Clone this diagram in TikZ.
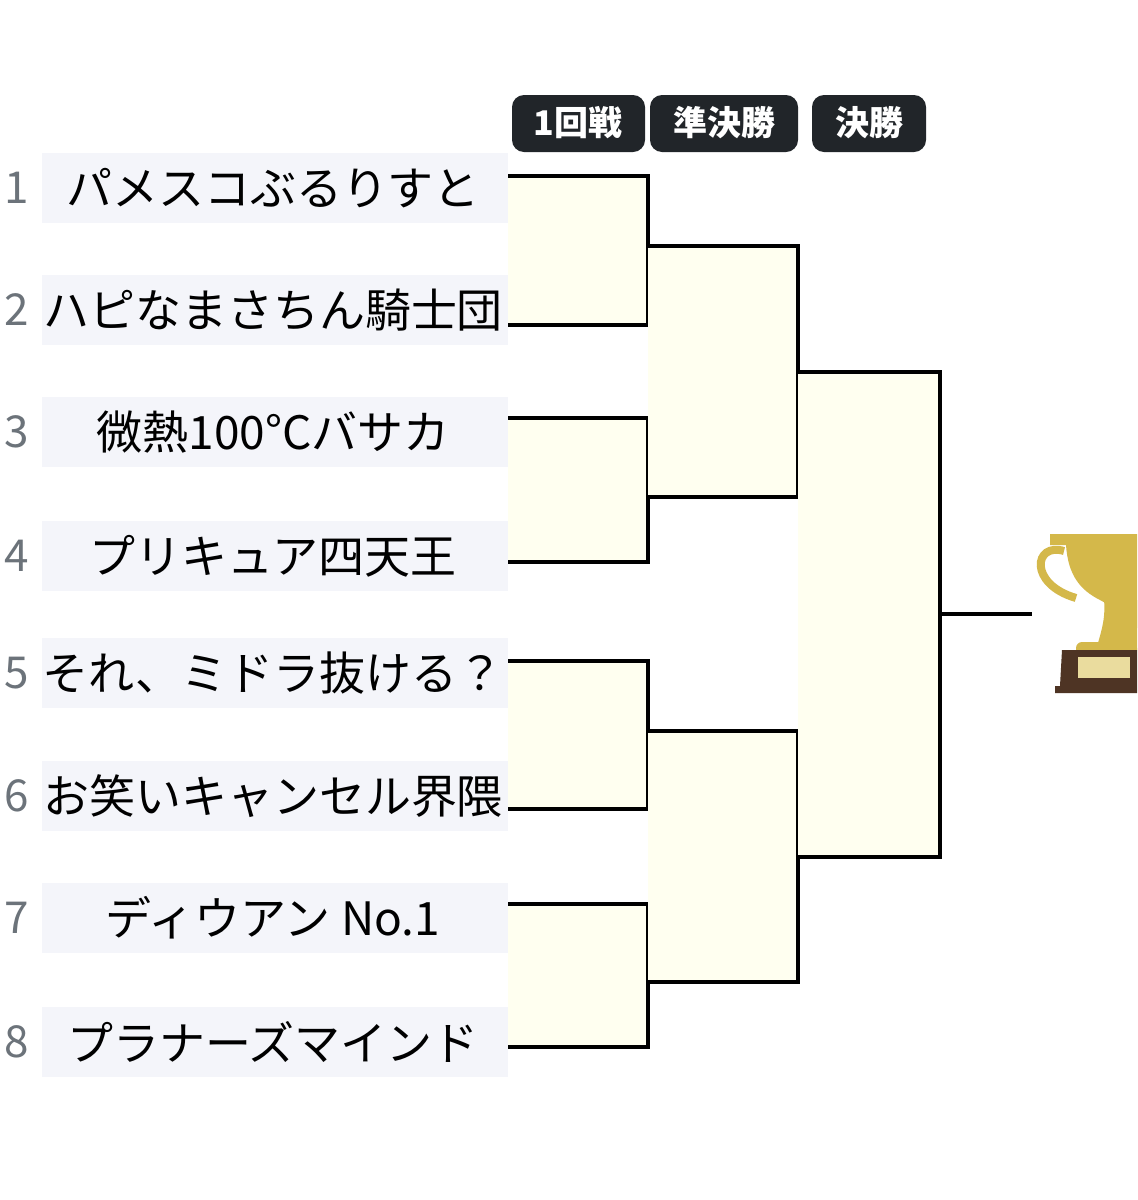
\documentclass[tikz,border=0pt]{standalone}
\usepackage{fontspec}
\setmainfont{Noto Sans CJK JP}
\definecolor{band}{HTML}{F4F5FA}
\definecolor{fillc}{HTML}{FFFFF0}
\definecolor{pill}{HTML}{212529}
\definecolor{gold}{HTML}{D4B84A}
\definecolor{brownb}{HTML}{4E3424}
\definecolor{plaq}{HTML}{EADC9E}
\definecolor{numc}{HTML}{6C737A}
\tikzset{
 entry/.style={font=\fontsize{23}{26}\selectfont,anchor=center},
 num/.style={font=\fontsize{22}{24}\selectfont,text=numc},
 brk/.style={draw=black,line width=2pt,fill=fillc},
 pilltext/.style={text=white,font=\bfseries\fontsize{17}{20}\selectfont}
}
\begin{document}
\begin{tikzpicture}[x=0.5pt,y=-0.5pt]
\useasboundingbox (0,0) rectangle (1137,1200);
\fill[white] (0,0) rectangle (1137,1200);
% header
\fill[pill,rounded corners=6pt] (512,95) rectangle (645,152);
\fill[pill,rounded corners=6pt] (650,95) rectangle (798,152);
\fill[pill,rounded corners=6pt] (812,95) rectangle (926,152);
\node[pilltext] (h1) at (578,123) {1回戦};
\node[pilltext] (h2) at (724,123) {準決勝};
\node[pilltext] (h3) at (869,123) {決勝};
% brackets
\draw[brk] (508,176) -- (648,176) -- (648,325) -- (508,325);
\draw[brk] (508,418) -- (648,418) -- (648,562) -- (508,562);
\draw[brk] (508,661) -- (648,661) -- (648,809) -- (508,809);
\draw[brk] (508,904) -- (648,904) -- (648,1047) -- (508,1047);
\draw[brk] (648,246) -- (798,246) -- (798,497) -- (648,497);
\draw[brk] (648,731) -- (798,731) -- (798,982) -- (648,982);
\draw[brk] (798,372) -- (940,372) -- (940,857) -- (798,857);
\coordinate (fin) at (940,614);
\coordinate (tro) at (1032,614);
\draw[line width=2pt] (fin) -- (tro);
% entries
\foreach \y/\t [count=\i] in {188/パメスコぶるりすと,310/ハピなまさちん騎士団,432/微熱100°Cバサカ,556/プリキュア四天王,673/それ、ミドラ抜ける？,796/お笑いキャンセル界隈,918/ディウアン No.1,1042/プラナーズマインド}{
 \fill[band] (42,\y-35) rectangle (508,\y+35);
 \node[num] (n\i) at (17,\y) {\i};
 \node[entry] (e\i) at (273,\y) {\t};
}
% trophy
\begin{scope}
\clip (1000,520) rectangle (1137,710);
\fill[gold] (1050,534) -- (1137,534) -- (1137,628) -- (1118,628) .. controls (1116,612) and (1112,606) .. (1100,600) .. controls (1080,590) and (1068,575) .. (1066,545) -- (1050,545) -- cycle;
\draw[gold,line width=4pt] (1064,551) .. controls (1034,542) and (1028,584) .. (1076,598);
\fill[gold] (1104,600) -- (1137,600) -- (1137,650) -- (1096,650) .. controls (1100,635) and (1106,620) .. cycle;
\fill[gold,rounded corners=3pt] (1076,642) rectangle (1137,656);
\fill[brownb] (1062,650) -- (1137,650) -- (1137,693) -- (1055,693) -- (1055,686) -- (1060,686) -- cycle;
\fill[plaq] (1078,657) rectangle (1130,678);
\end{scope}
\end{tikzpicture}
\end{document}
